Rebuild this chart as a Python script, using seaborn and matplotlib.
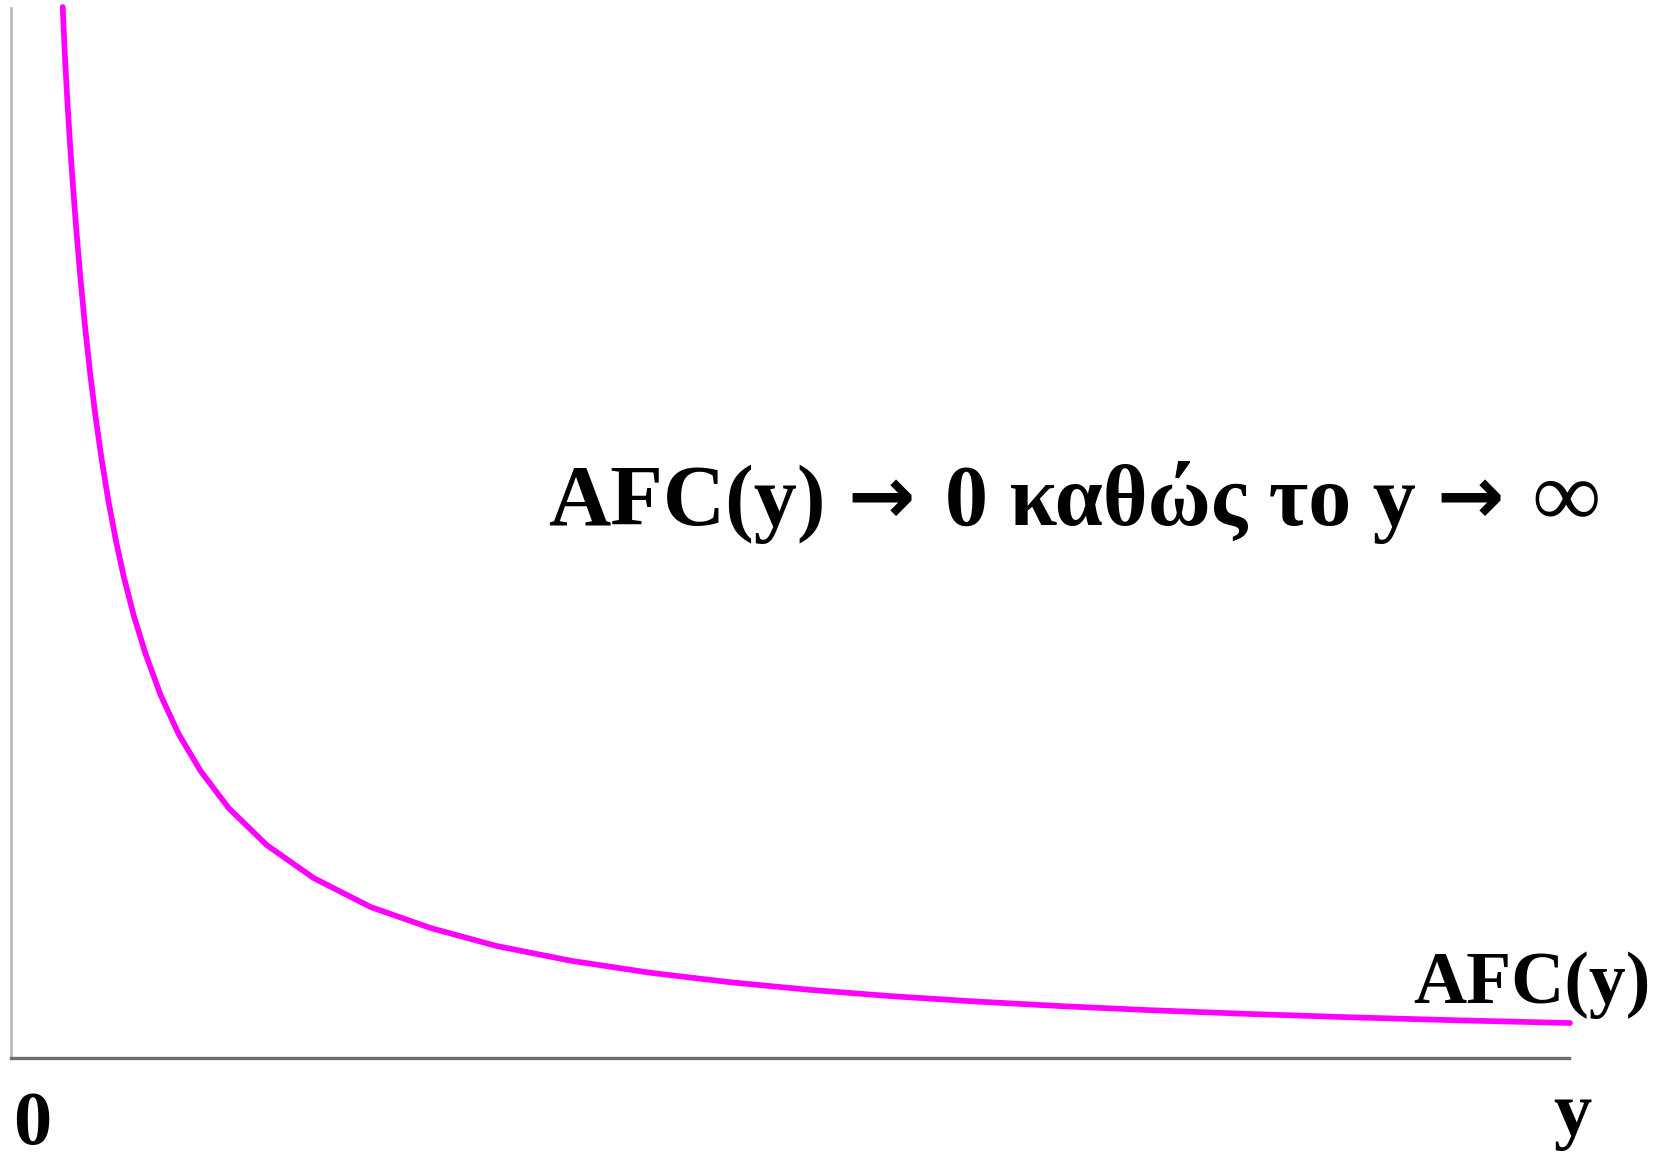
import pandas as pd
import matplotlib.pyplot as plt
import seaborn as sns

# output y and average fixed cost (axis units = 100 px)
output_y = [0.521, 0.545, 0.570, 0.595, 0.625, 0.660, 0.700, 0.745, 0.795,
            0.850, 0.910, 0.975, 1.050, 1.130, 1.230, 1.350, 1.500, 1.680,
            1.900, 2.180, 2.560, 3.030, 3.600, 4.200, 4.860, 5.600, 6.400,
            7.200, 8.000, 8.800, 9.600, 10.500, 11.400, 12.400, 13.400,
            14.500, 15.594]
afc = [10.51, 9.98, 9.53, 9.13, 8.70, 8.25, 7.78, 7.31, 6.85,
       6.41, 5.99, 5.59, 5.19, 4.82, 4.43, 4.04, 3.63, 3.24,
       2.87, 2.50, 2.13, 1.80, 1.51, 1.30, 1.12, 0.973, 0.852,
       0.757, 0.681, 0.619, 0.568, 0.519, 0.478, 0.440, 0.407,
       0.376, 0.350]

df = pd.DataFrame({"y": output_y, "AFC": afc})

sns.set_style("white")
plt.rcParams["font.family"] = ["Liberation Serif", "DejaVu Serif"]
plt.rcParams["text.color"] = "black"

W, H = 1667, 1157
fig = plt.figure(figsize=(W / 100, H / 100), dpi=100)
ax = fig.add_axes([10.6 / W, 1 - 1058 / H, 1558.4 / W, 1050 / H])

sns.lineplot(data=df, x="y", y="AFC", ax=ax, color="#ff00ff", linewidth=4.1,
             clip_on=False)

ax.set_xlim(0, 15.584)
ax.set_ylim(0, 10.50)
ax.set_xticks([])
ax.set_yticks([])
ax.set_xlabel("")
ax.set_ylabel("")
sns.despine(ax=ax)
ax.spines["left"].set_color("#b3b3b3")
ax.spines["left"].set_linewidth(1.8)
ax.spines["bottom"].set_color("#6e6e6e")
ax.spines["bottom"].set_linewidth(2.4)


def px(x, y):
    return x / W, 1 - y / H


# main statement, laid out piece by piece so the arrows can be bigger
base = 525
fig.text(*px(548, base), "AFC(y)", fontsize=62, fontweight="bold",
         ha="left", va="baseline")
fig.text(*px(881, base - 24), "→", fontsize=58, fontweight="bold",
         family="DejaVu Sans", ha="center", va="center")
fig.text(*px(945, base), "0 καθώς το y", fontsize=62, fontweight="bold",
         ha="left", va="baseline")
fig.text(*px(1470, base - 24), "→", fontsize=58, fontweight="bold",
         family="DejaVu Sans", ha="center", va="center")
fig.text(*px(1566, base), "∞", fontsize=68, fontweight="bold",
         ha="center", va="baseline")

fig.text(*px(1413, 1003), "AFC(y)", fontsize=53, fontweight="bold",
         ha="left", va="baseline")
fig.text(*px(13, 1144), "0", fontsize=55, fontweight="bold",
         ha="left", va="baseline")
fig.text(*px(1553, 1135), "y", fontsize=55, fontweight="bold",
         ha="left", va="baseline")

plt.savefig("out.png", dpi=100)
